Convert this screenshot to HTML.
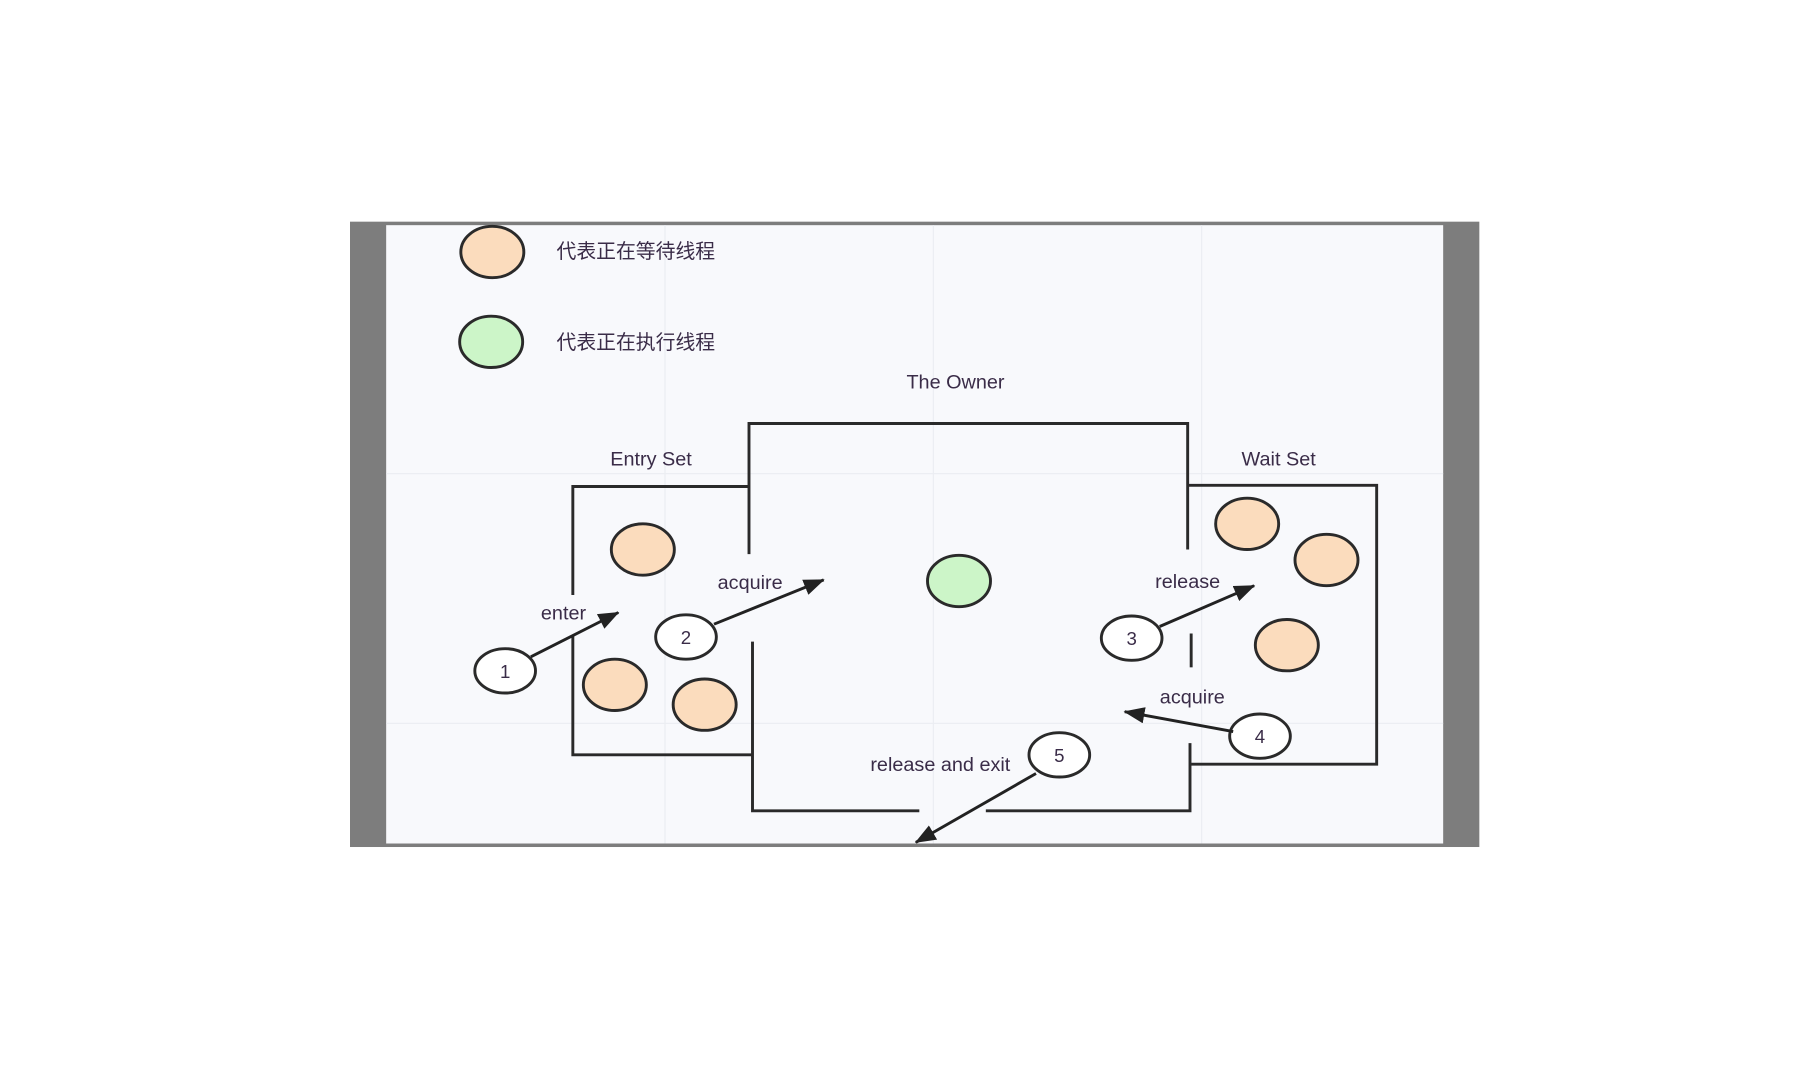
<!DOCTYPE html>
<html><head><meta charset="utf-8"><style>
html,body{margin:0;padding:0;background:#fff;width:1820px;height:1066px;overflow:hidden}
svg{display:block}
text{font-family:"Liberation Sans","Noto Sans CJK SC",sans-serif;fill:#3a2c48}
</style></head><body>
<svg width="1820" height="1066" viewBox="0 0 1560 913.7" preserveAspectRatio="none" xmlns="http://www.w3.org/2000/svg">
<defs>
<marker id="a" markerWidth="18" markerHeight="14" refX="17" refY="7" orient="auto" markerUnits="userSpaceOnUse" viewBox="0 0 18 14">
<path d="M0,0 L18,7 L0,14 z" fill="#222"/></marker>
</defs>
<rect x="0" y="0" width="1560" height="914" fill="#fff"/>
<rect x="300" y="190" width="968" height="536" fill="#7d7d7d"/>
<rect x="331" y="193" width="906" height="530" fill="#f8f9fc"/>
<g stroke="#ebedf2" stroke-width="1">
<line x1="331" y1="406" x2="1237" y2="406"/><line x1="331" y1="620" x2="1237" y2="620"/>
<line x1="570" y1="193" x2="570" y2="723"/><line x1="800" y1="193" x2="800" y2="723"/><line x1="1030" y1="193" x2="1030" y2="723"/>
</g>
<g fill="none" stroke="#2a2a2a" stroke-width="2.5">
<polyline points="642,475 642,363 1018,363 1018,471"/>
<polyline points="491,510 491,417 642,417"/>
<polyline points="491,545 491,647 645,647"/>
<polyline points="645,550 645,695 788,695"/>
<polyline points="845,695 1020,695 1020,637"/>
<line x1="1021" y1="543" x2="1021" y2="572"/>
<polyline points="1018,416 1180,416 1180,655 1021,655"/>
</g>
<g stroke="#2a2a2a" stroke-width="2.5">
<ellipse cx="422" cy="216" rx="27" ry="22" fill="#fbdcbd"/>
<ellipse cx="421" cy="293" rx="27" ry="22" fill="#ccf5c8"/>
<ellipse cx="551" cy="471" rx="27" ry="22" fill="#fbdcbd"/>
<ellipse cx="527" cy="587" rx="27" ry="22" fill="#fbdcbd"/>
<ellipse cx="604" cy="604" rx="27" ry="22" fill="#fbdcbd"/>
<ellipse cx="1069" cy="449" rx="27" ry="22" fill="#fbdcbd"/>
<ellipse cx="1137" cy="480" rx="27" ry="22" fill="#fbdcbd"/>
<ellipse cx="1103" cy="553" rx="27" ry="22" fill="#fbdcbd"/>
<ellipse cx="822" cy="498" rx="27" ry="22" fill="#ccf5c8"/>
<ellipse cx="433" cy="575" rx="26" ry="19" fill="#fff"/>
<ellipse cx="588" cy="546" rx="26" ry="19" fill="#fff"/>
<ellipse cx="970" cy="547" rx="26" ry="19" fill="#fff"/>
<ellipse cx="1080" cy="631" rx="26" ry="19" fill="#fff"/>
<ellipse cx="908" cy="647" rx="26" ry="19" fill="#fff"/>
</g>
<g stroke="#222" stroke-width="2.5" marker-end="url(#a)">
<line x1="455" y1="563" x2="530" y2="525"/>
<line x1="612" y1="535" x2="706" y2="497"/>
<line x1="994" y1="537" x2="1075" y2="502"/>
<line x1="1057" y1="627" x2="964" y2="610"/>
<line x1="888" y1="663" x2="785" y2="722"/>
</g>
<g font-size="16" text-anchor="middle">
<text x="433" y="581">1</text><text x="588" y="552">2</text><text x="970" y="553">3</text><text x="1080" y="637">4</text><text x="908" y="653">5</text>
</g>
<g font-size="17">
<text x="477" y="221">代表正在等待线程</text>
<text x="477" y="299">代表正在执行线程</text>
</g>
<g font-size="17" text-anchor="middle">
<text x="819" y="333">The Owner</text>
<text x="558" y="399">Entry Set</text>
<text x="1096" y="399">Wait Set</text>
<text x="483" y="531">enter</text>
<text x="643" y="505">acquire</text>
<text x="1018" y="504">release</text>
<text x="1022" y="603">acquire</text>
<text x="806" y="661">release and exit</text>
</g>
</svg>
</body></html>
